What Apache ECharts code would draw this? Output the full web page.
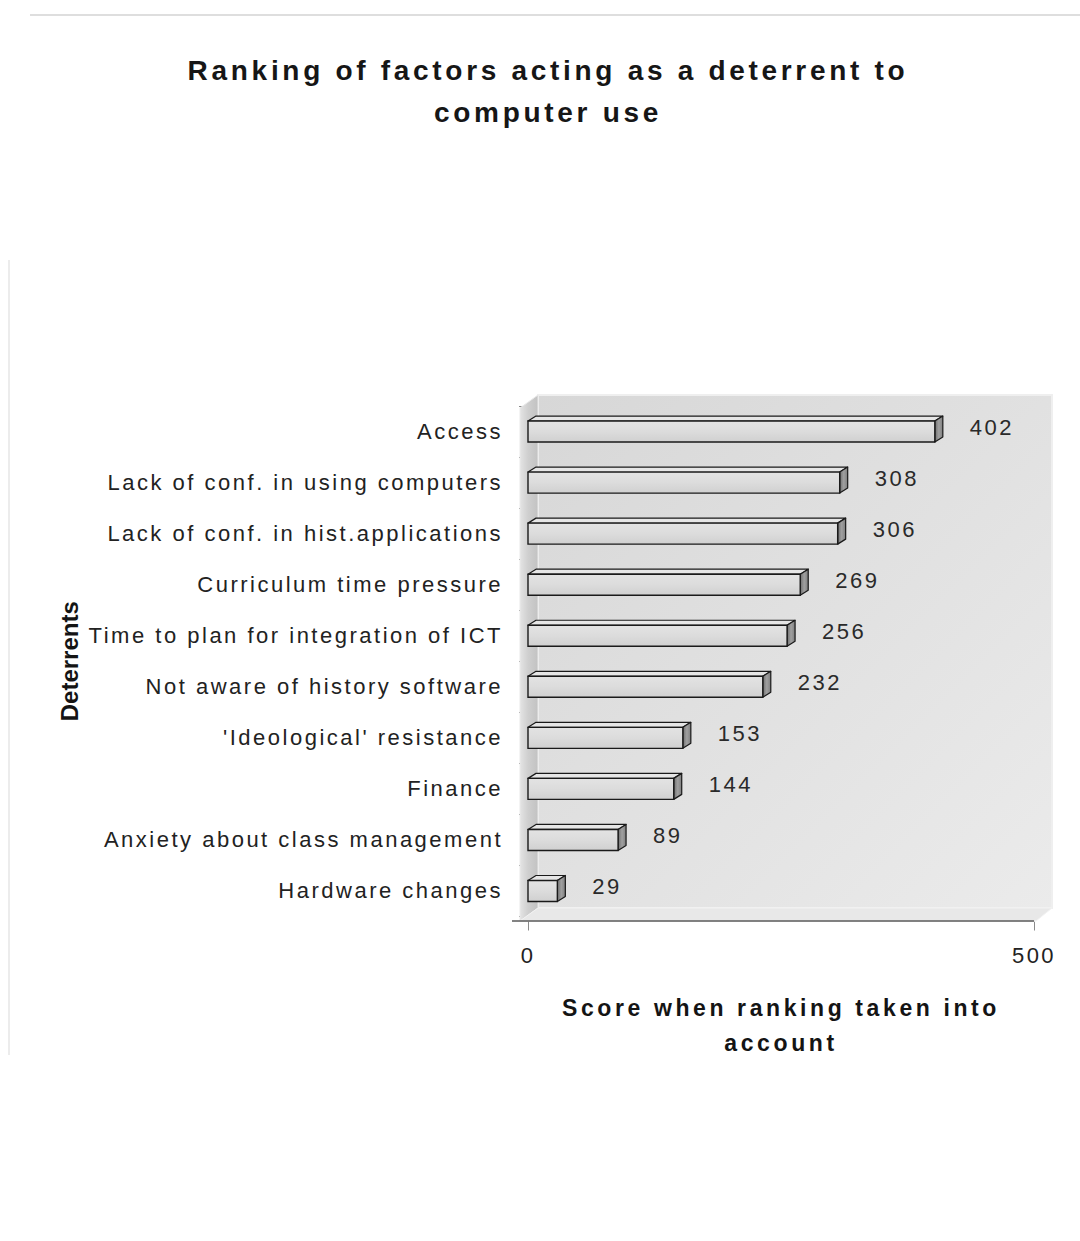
<!DOCTYPE html>
<html>
<head>
<meta charset="utf-8">
<title>Ranking of factors acting as a deterrent to computer use</title>
<style>
  html, body { margin: 0; padding: 0; background: #ffffff; }
  #chart { width: 1080px; height: 1241px; }
  /* spaced-out lettering used throughout the chart */
  #chart text[style*="28px"] { letter-spacing: 3.7px; }
  #chart text[style*="23px"] { letter-spacing: 3.6px; }
  #chart text[style*="22px"] { letter-spacing: 2.5px; }
</style>
<script src="https://cdn.jsdelivr.net/npm/echarts@6/dist/echarts.min.js"></script>
</head>
<body>
<div id="chart"></div>
<script>
// ---- chart data ----
const categories = [
  'Access',
  'Lack of conf. in using computers',
  'Lack of conf. in hist.applications',
  'Curriculum time pressure',
  'Time to plan for integration of ICT',
  'Not aware of history software',
  "'Ideological' resistance",
  'Finance',
  'Anxiety about class management',
  'Hardware changes'
];
const scores = [402, 308, 306, 269, 256, 232, 153, 144, 89, 29];
const scoreAxisTicks = [0, 500];
const titleLines = ['Ranking of factors acting as a deterrent to', 'computer use'];
const xAxisTitle = 'Score when ranking taken into\naccount';
const yAxisTitle = 'Deterrents';

// ---- drawing ----
const FONT = '"Liberation Sans", Arial, sans-serif';
const DEPTH_X = 8, DEPTH_Y = -5;      // bar extrusion
const WALL_X = 18, WALL_Y = -13;      // box depth of the plot walls
const BAR_H = 21;

const chart = echarts.init(document.getElementById('chart'), null, { renderer: 'svg' });

const barData = scores.map((v, i) => [v, i]);

function renderWalls(params, api) {
  const cs = params.coordSys;
  const L = cs.x - 8, R = cs.x + cs.width + 2;
  const T = cs.y + 2, B = cs.y + cs.height + 4.5;
  return {
    type: 'group',
    silent: true,
    children: [
      { // back wall
        type: 'rect',
        shape: { x: L + WALL_X, y: T + WALL_Y, width: R - L - 2, height: B - T },
        style: {
          fill: new echarts.graphic.LinearGradient(0, 0, 1, 1, [
            { offset: 0, color: '#d7d7d7' },
            { offset: 0.55, color: '#e2e2e2' },
            { offset: 1, color: '#ebebeb' }
          ]),
          stroke: '#efefef', lineWidth: 2
        }
      },
      { // left wall
        type: 'polygon',
        shape: { points: [[L, T], [L + WALL_X, T + WALL_Y], [L + WALL_X, B + WALL_Y], [L, B]] },
        style: {
          fill: new echarts.graphic.LinearGradient(0, 0, 1, 0, [
            { offset: 0, color: '#e4e4e4' },
            { offset: 0.45, color: '#cfcfcf' },
            { offset: 1, color: '#c2c2c2' }
          ]),
          stroke: '#e9e9e9', lineWidth: 1
        }
      },
      { // floor
        type: 'polygon',
        shape: { points: [[L, B], [L + WALL_X, B + WALL_Y], [R + WALL_X - 2, B + WALL_Y], [R, B]] },
        style: { fill: '#e8e8e8', stroke: '#f2f2f2', lineWidth: 1 }
      },
      { // front edge of the floor
        type: 'line',
        shape: { x1: L - 8, y1: B, x2: R - 2, y2: B },
        style: { stroke: '#5a5a5a', lineWidth: 1.3 }
      }
    ]
  };
}

function renderBar(params, api) {
  const v = api.value(0);
  const idx = api.value(1);
  const p0 = api.coord([0, idx]);
  const p1 = api.coord([v, idx]);
  const x0 = p0[0], x1 = p1[0], yc = p1[1];
  const yt = yc - BAR_H / 2, yb = yc + BAR_H / 2;
  const edge = '#1a1a1a';
  return {
    type: 'group',
    children: [
      { // top face
        type: 'polygon',
        shape: { points: [[x0, yt], [x0 + DEPTH_X, yt + DEPTH_Y], [x1 + DEPTH_X, yt + DEPTH_Y], [x1, yt]] },
        style: { fill: '#e6e6e6', stroke: edge, lineWidth: 1.2, lineJoin: 'round' }
      },
      { // end face
        type: 'polygon',
        shape: { points: [[x1, yt], [x1 + DEPTH_X, yt + DEPTH_Y], [x1 + DEPTH_X, yb + DEPTH_Y], [x1, yb]] },
        style: {
          fill: new echarts.graphic.LinearGradient(0, 0, 1, 0, [
            { offset: 0, color: '#6f6f6f' },
            { offset: 0.5, color: '#a0a0a0' },
            { offset: 1, color: '#7e7e7e' }
          ]),
          stroke: edge, lineWidth: 1.2, lineJoin: 'round'
        }
      },
      { // front face
        type: 'rect',
        shape: { x: x0, y: yt, width: x1 - x0, height: BAR_H },
        style: {
          fill: new echarts.graphic.LinearGradient(0, 0, 0, 1, [
            { offset: 0, color: '#e3e3e3' },
            { offset: 0.5, color: '#dcdcdc' },
            { offset: 1, color: '#d0d0d0' }
          ]),
          stroke: edge, lineWidth: 1.4
        }
      },
      { // value label
        type: 'text',
        style: {
          text: String(v),
          x: x1 + DEPTH_X + 27,
          y: yc - 4,
          align: 'left',
          verticalAlign: 'middle',
          fontSize: 22,
          fontFamily: FONT,
          fill: '#2a2a2a'
        }
      }
    ]
  };
}

const option = {
  backgroundColor: '#ffffff',
  animation: false,
  graphic: [
    { type: 'line', shape: { x1: 30, y1: 15, x2: 1080, y2: 15 }, style: { stroke: '#dedede', lineWidth: 2 }, silent: true },
    { type: 'line', shape: { x1: 9, y1: 260, x2: 9, y2: 1055 }, style: { stroke: '#ececec', lineWidth: 2 }, silent: true },
    {
      type: 'text',
      x: 548, y: 49,
      style: {
        text: titleLines.join('\n'),
        align: 'center',
        verticalAlign: 'top',
        fontSize: 28,
        fontWeight: 'bold',
        lineHeight: 42,
        fontFamily: FONT,
        fill: '#161616'
      }
    }
  ],
  grid: { left: 528, right: 46, top: 406, bottom: 324.5, containLabel: false },
  xAxis: {
    type: 'value',
    min: scoreAxisTicks[0],
    max: scoreAxisTicks[scoreAxisTicks.length - 1],
    interval: scoreAxisTicks[1] - scoreAxisTicks[0],
    offset: 5,
    axisLine: { show: false },
    axisTick: { show: true, length: 9, lineStyle: { color: '#8a8a8a', width: 1 } },
    splitLine: { show: false },
    axisLabel: { fontSize: 22, color: '#222', margin: 23, fontFamily: FONT },
    name: xAxisTitle,
    nameLocation: 'middle',
    nameGap: 69,
    nameTextStyle: { fontSize: 23, fontWeight: 'bold', lineHeight: 35, color: '#141414', fontFamily: FONT }
  },
  yAxis: {
    type: 'category',
    data: categories,
    inverse: true,
    offset: 8,
    axisLine: { show: false },
    axisTick: { show: true, length: 9, lineStyle: { color: '#8a8a8a', width: 1 } },
    axisLabel: { fontSize: 22, color: '#222', margin: 17, fontFamily: FONT },
    name: yAxisTitle,
    nameLocation: 'middle',
    nameRotate: 90,
    nameGap: 439,
    nameTextStyle: { fontSize: 24, fontWeight: 'bold', color: '#141414', fontFamily: FONT }
  },
  series: [
    {
      type: 'custom',
      name: 'walls',
      data: [[0, 0]],
      encode: { x: 0, y: 1 },
      renderItem: renderWalls,
      clip: false,
      silent: true,
      z: 1
    },
    {
      type: 'custom',
      name: 'Score',
      data: barData,
      encode: { x: 0, y: 1 },
      renderItem: renderBar,
      clip: false,
      z: 3
    }
  ]
};

chart.setOption(option);
</script>
</body>
</html>
